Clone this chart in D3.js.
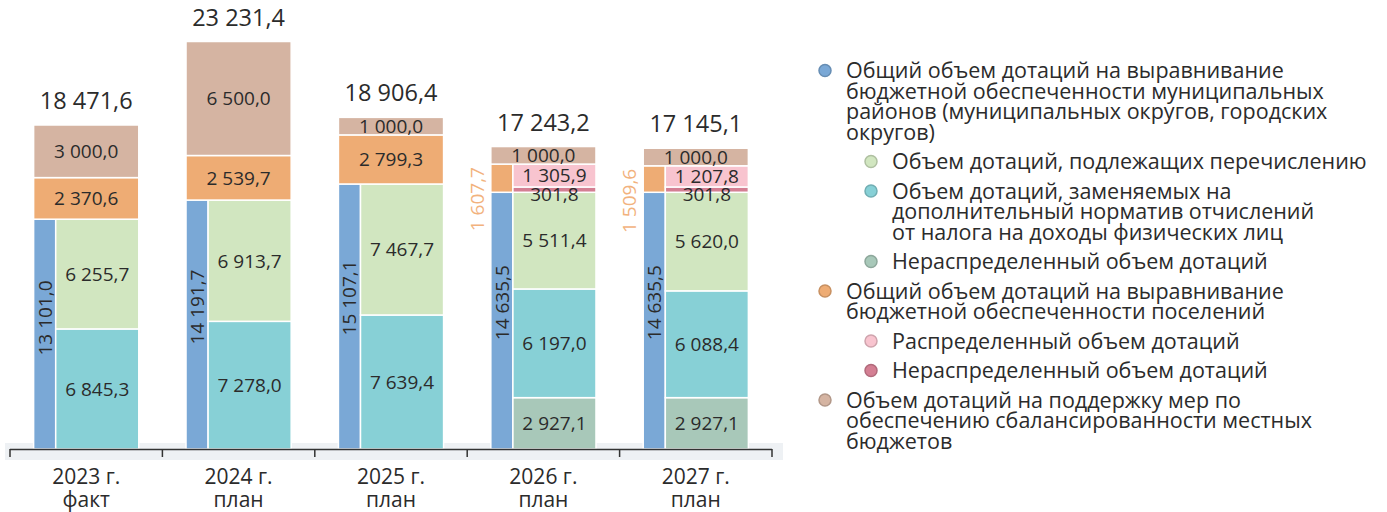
<!DOCTYPE html>
<html lang="ru">
<head>
<meta charset="UTF-8">
<title>Дотации</title>
<script src="https://d3js.org/d3.v7.min.js"></script>
<style>
  body { margin: 0; background: #fff; }
  svg text { font-family: "Open Sans", "Noto Sans", sans-serif; fill: #2b2b2b; }
</style>
</head>
<body>
<script>
// years and data (млн руб.)
const years = ["2023 г.", "2024 г.", "2025 г.", "2026 г.", "2027 г."];
const yearNotes = ["факт", "план", "план", "план", "план"];
const districtTotal = [13101.0, 14191.7, 15107.1, 14635.5, 14635.5];
const districtTransfer = [6255.7, 6913.7, 7467.7, 5511.4, 5620.0];
const districtReplaced = [6845.3, 7278.0, 7639.4, 6197.0, 6088.4];
const districtUndistributed = [0, 0, 0, 2927.1, 2927.1];
const settlementTotal = [2370.6, 2539.7, 2799.3, 1607.7, 1509.6];
const settlementDistributed = [0, 0, 0, 1305.9, 1207.8];
const settlementUndistributed = [0, 0, 0, 301.8, 301.8];
const balanceSupport = [3000.0, 6500.0, 1000.0, 1000.0, 1000.0];
const totals = [18471.6, 23231.4, 18906.4, 17243.2, 17145.1];

const colors = {
  district: "#7aa8d6",
  transfer: "#d1e6c0",
  replaced: "#87d0d6",
  undistributed: "#a8c8b9",
  settlement: "#eeac74",
  distributed: "#f8c4cf",
  settlUndist: "#d47f93",
  balance: "#d5b4a2"
};

const legendItems = [
  { level: 1, color: colors.district, lines: ["Общий объем дотаций на выравнивание", "бюджетной обеспеченности муниципальных", "районов (муниципальных округов, городских", "округов)"] },
  { level: 2, color: colors.transfer, lines: ["Объем дотаций, подлежащих перечислению"] },
  { level: 2, color: colors.replaced, lines: ["Объем дотаций, заменяемых на", "дополнительный норматив отчислений", "от налога на доходы физических лиц"] },
  { level: 2, color: colors.undistributed, lines: ["Нераспределенный объем дотаций"] },
  { level: 1, color: colors.settlement, lines: ["Общий объем дотаций на выравнивание", "бюджетной обеспеченности поселений"] },
  { level: 2, color: colors.distributed, lines: ["Распределенный объем дотаций"] },
  { level: 2, color: colors.settlUndist, lines: ["Нераспределенный объем дотаций"] },
  { level: 1, color: colors.balance, lines: ["Объем дотаций на поддержку мер по", "обеспечению сбалансированности местных", "бюджетов"] }
];

const fmt = v => {
  const s = d3.format(",.1f")(v);
  return s.replace(/,/g, " ").replace(".", ",");
};

const width = 1387, height = 512;
const svg = d3.select("body").append("svg")
  .attr("width", width)
  .attr("height", height);

const x = d3.scaleBand().domain(years).range([10, 772])
  .paddingInner(0.31).paddingOuter(0.155);
const y = d3.scaleLinear().domain([0, 23231.4]).range([449, 41.5]);
const bw = x.bandwidth();
const colW = bw * 0.21;

// grey band behind axis
svg.append("rect")
  .attr("x", 5).attr("y", 443)
  .attr("width", 778).attr("height", 17)
  .attr("fill", "#eef1f4");

const segs = [];
const labels = [];
years.forEach((yr, i) => {
  const x0 = x(yr), x1 = x0 + bw, xr = x0 + colW;
  const split = settlementDistributed[i] > 0;
  // left blue column
  segs.push({ x0, x1: xr, v0: 0, v1: districtTotal[i], c: colors.district });
  // right column of district
  let base = 0;
  if (districtUndistributed[i] > 0) {
    segs.push({ x0: xr, x1, v0: base, v1: base + districtUndistributed[i], c: colors.undistributed, label: districtUndistributed[i] });
    base += districtUndistributed[i];
  }
  segs.push({ x0: xr, x1, v0: base, v1: base + districtReplaced[i], c: colors.replaced, label: districtReplaced[i] });
  base += districtReplaced[i];
  segs.push({ x0: xr, x1, v0: base, v1: base + districtTransfer[i], c: colors.transfer, label: districtTransfer[i] });
  base = districtTotal[i];
  if (split) {
    segs.push({ x0, x1: xr, v0: base, v1: base + settlementTotal[i], c: colors.settlement });
    segs.push({ x0: xr, x1, v0: base, v1: base + settlementUndistributed[i], c: colors.settlUndist });
    segs.push({ x0: xr, x1, v0: base + settlementUndistributed[i], v1: base + settlementTotal[i], c: colors.distributed, label: settlementDistributed[i] });
    labels.push({ x: (xr + x1) / 2, y: y(base + settlementUndistributed[i]) + 7, t: settlementUndistributed[i] });
    labels.push({ x: x0 - 14, y: y(base + settlementTotal[i]) + 3, t: settlementTotal[i], rot: true, orange: true });
  } else {
    segs.push({ x0, x1, v0: base, v1: base + settlementTotal[i], c: colors.settlement, label: settlementTotal[i] });
  }
  base += settlementTotal[i];
  segs.push({ x0, x1, v0: base, v1: base + balanceSupport[i], c: colors.balance, label: balanceSupport[i] });
  // rotated total for district column
  labels.push({ x: x0 + colW / 2, y: y(districtTotal[i] * 0.57), t: districtTotal[i], rot: true });
});

svg.append("g").selectAll("rect")
  .data(segs)
  .join("rect")
  .attr("x", d => d.x0)
  .attr("y", d => y(d.v1))
  .attr("width", d => d.x1 - d.x0)
  .attr("height", d => y(d.v0) - y(d.v1))
  .attr("fill", d => d.c)
  .attr("stroke", "#fff")
  .attr("stroke-width", 1.5);

// labels inside segments
svg.append("g").selectAll("text")
  .data(segs.filter(d => d.label))
  .join("text")
  .attr("x", d => (d.x0 + d.x1) / 2)
  .attr("y", d => (y(d.v0) + y(d.v1)) / 2)
  .attr("dy", "0.36em")
  .attr("text-anchor", "middle")
  .style("font-size", "19px")
  .text(d => fmt(d.label));

// extra labels (301,8 and rotated)
labels.forEach(l => {
  const t = svg.append("text")
    .style("font-size", "19px")
    .text(fmt(l.t));
  if (l.rot) {
    t.attr("transform", `translate(${l.x},${l.y}) rotate(-90)`)
      .attr("dy", "0.36em")
      .attr("text-anchor", l.orange ? "end" : "middle");
    if (l.orange) t.style("fill", "#f2b27d");
  } else {
    t.attr("x", l.x).attr("y", l.y).attr("dy", "0.36em").attr("text-anchor", "middle");
  }
});

// totals above bars
svg.append("g").selectAll("text")
  .data(years)
  .join("text")
  .attr("x", d => x(d) + bw / 2)
  .attr("y", (d, i) => y(totals[i]) - 16)
  .attr("text-anchor", "middle")
  .style("font-size", "23.5px")
  .text((d, i) => fmt(totals[i]));

// axis
const axis = svg.append("g");
axis.append("line")
  .attr("x1", 10).attr("x2", 772)
  .attr("y1", 449.5).attr("y2", 449.5)
  .attr("stroke", "#333").attr("stroke-width", 1.5);
const tickXs = years.map(d => x(d) - x.step() * x.paddingInner() / 2).concat([772]);
axis.selectAll(".tick")
  .data(tickXs)
  .join("line")
  .attr("x1", d => d).attr("x2", d => d)
  .attr("y1", 449).attr("y2", 457)
  .attr("stroke", "#333").attr("stroke-width", 1.5);

const cat = axis.selectAll(".cat")
  .data(years)
  .join("text")
  .attr("x", d => x(d) + bw / 2)
  .attr("text-anchor", "middle")
  .style("font-size", "21px");
cat.append("tspan").attr("y", 484).text(d => d);
cat.append("tspan").attr("x", d => x(d) + bw / 2).attr("y", 507).text((d, i) => yearNotes[i]);

// legend
const lineH = 20.5;
let ly = 78;
const legend = svg.append("g");
legendItems.forEach(item => {
  const cx = item.level === 1 ? 825 : 871;
  const tx = item.level === 1 ? 846 : 892;
  legend.append("circle")
    .attr("cx", cx).attr("cy", ly - 7.5)
    .attr("r", 6)
    .attr("fill", item.color)
    .attr("stroke", d3.color(item.color).darker(0.5))
    .attr("stroke-width", 1.5);
  item.lines.forEach((ln, j) => {
    legend.append("text")
      .attr("x", tx).attr("y", ly + j * lineH)
      .style("font-size", "21.5px")
      .text(ln);
  });
  ly += item.lines.length * lineH + 9;
});
</script>
</body>
</html>
